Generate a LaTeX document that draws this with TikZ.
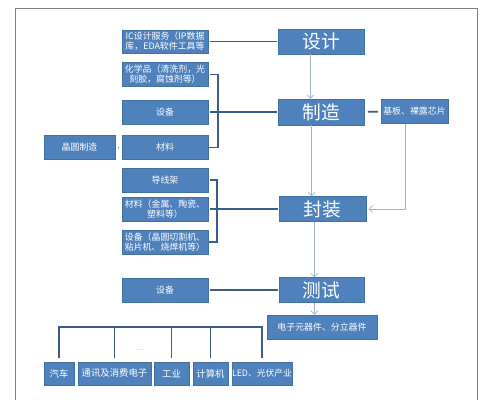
\documentclass[tikz,border=0pt]{standalone}
\usepackage{fontspec}
\setmainfont{Noto Sans CJK SC}
\usepackage{xcolor}
\usetikzlibrary{arrows.meta}
\definecolor{boxblue}{HTML}{4F81BD}
\definecolor{boxedge}{HTML}{41719C}
\definecolor{linkblue}{HTML}{385D8A}
\definecolor{flowgray}{HTML}{A3B3CC}

\begin{document}
\begin{tikzpicture}[x=0.03cm, y=-0.03cm,
  nd/.style={draw=boxedge, fill=boxblue, text=white, align=center, inner sep=1pt,
    font=\fontsize{7.6}{8.8}\selectfont, minimum width=2.58cm, minimum height=0.72cm},
  big/.style={nd, font=\fontsize{16}{18}\selectfont, minimum height=0.75cm},
  leaf/.style={nd, font=\fontsize{8}{9}\selectfont, minimum height=0.69cm},
  link/.style={linkblue, line width=1.5pt, shorten <=1.5pt, shorten >=1pt},
  flow/.style={flowgray, semithick, -{Straight Barb[length=3pt, width=6pt]}}]
  \useasboundingbox (0,0) rectangle (495,400);
  % frame
  \draw[black!50, line width=0.8pt] (15.5,400) |- (477,8) -- (477,400);
  % main chain
  \node[big] (sheji) at (321,41.5) {设计};
  \node[big, minimum height=0.78cm] (zhizao) at (321,112) {制造};
  \node[big, minimum width=2.61cm] (fengzhuang) at (322.5,209) {封装};
  \node[big, minimum width=2.55cm] (ceshi) at (321.5,290) {测试};
  \node[nd, minimum width=3.3cm] (parts) at (322,327) {电子元器件、分立器件};
  \node[nd, minimum width=2.01cm] (jiban) at (414.5,111.5) {基板、裸露芯片};
  % inputs
  \node[nd, minimum height=0.69cm] (ic) at (165,41.5) {IC设计服务（IP数据\\库，EDA软件工具等};
  \node[nd] (chem) at (165,74.5) {化学品（清洗剂，光\\刻胶，腐蚀剂等）};
  \node[nd] (eqa) at (165,112) {设备};
  \node[nd] (mata) at (165,147.5) {材料};
  \node[nd, minimum width=2.13cm] (wafer) at (79.5,147.5) {晶圆制造};
  \node[nd] (lead) at (165,180) {导线架};
  \node[nd] (matb) at (165,209) {材料（金属、陶瓷、\\塑料等）};
  \node[nd] (eqb) at (165,242) {设备（晶圆切割机、\\粘片机、烧焊机等）};
  \node[nd] (eqc) at (165,290) {设备};
  % applications
  \node[leaf, minimum width=0.9cm] (car) at (59,373.5) {汽车};
  \node[leaf, minimum width=2.19cm] (comm) at (114.5,373.5) {通讯及消费电子};
  \node[leaf, minimum width=1.05cm] (ind) at (171.5,373.5) {工业};
  \node[leaf, minimum width=1.05cm] (comp) at (210.5,373.5) {计算机};
  \node[leaf, minimum width=1.8cm, inner sep=0pt, font=\fontsize{7.5}{9}\selectfont] (led) at (262,373.5) {LED、光伏产业};
  \node[font=\fontsize{4}{4}\selectfont, text=black!60, inner sep=0pt] (dots) at (140,350) {......};
  % flow arrows
  \draw[flow] ([xshift=-9]sheji.south) -- ([xshift=-9]zhizao.north);
  \draw[flow] ([xshift=-8]zhizao.south) -- ([xshift=-8]zhizao.south |- fengzhuang.north);
  \draw[flow] ([xshift=-8]jiban.south) |- ([xshift=2]fengzhuang.east);
  \draw[flow] ([xshift=-7]fengzhuang.south) -- ([xshift=-7]fengzhuang.south |- ceshi.north);
  \draw[flow] ([xshift=-6]ceshi.south) -- ([xshift=-6]ceshi.south |- parts.north);
  % links
  \draw[link] (ic) -- (sheji);
  \draw[link] (chem.east) -- ++(10,0) |- (mata.east);
  \draw[link] (eqa) -- (zhizao);
  \draw[link, shorten <=2pt, shorten >=2pt] (wafer) -- (mata);
  \draw[link, shorten <=3pt, shorten >=2.5pt] (zhizao) -- (jiban);
  \draw[link] (lead.east) -- ++(9,0) |- (eqb.east);
  \draw[link] (matb) -- (fengzhuang);
  \draw[link] (eqc) -- (ceshi);
  \draw[link, shorten <=3.4pt, shorten >=3.4pt] (parts.west) -| (car.north);
  \foreach \n in {comm, ind, comp, led}
    \draw[link, shorten <=0pt, shorten >=3.4pt] (parts.west -| \n.north) -- (\n.north);
\end{tikzpicture}
\end{document}
